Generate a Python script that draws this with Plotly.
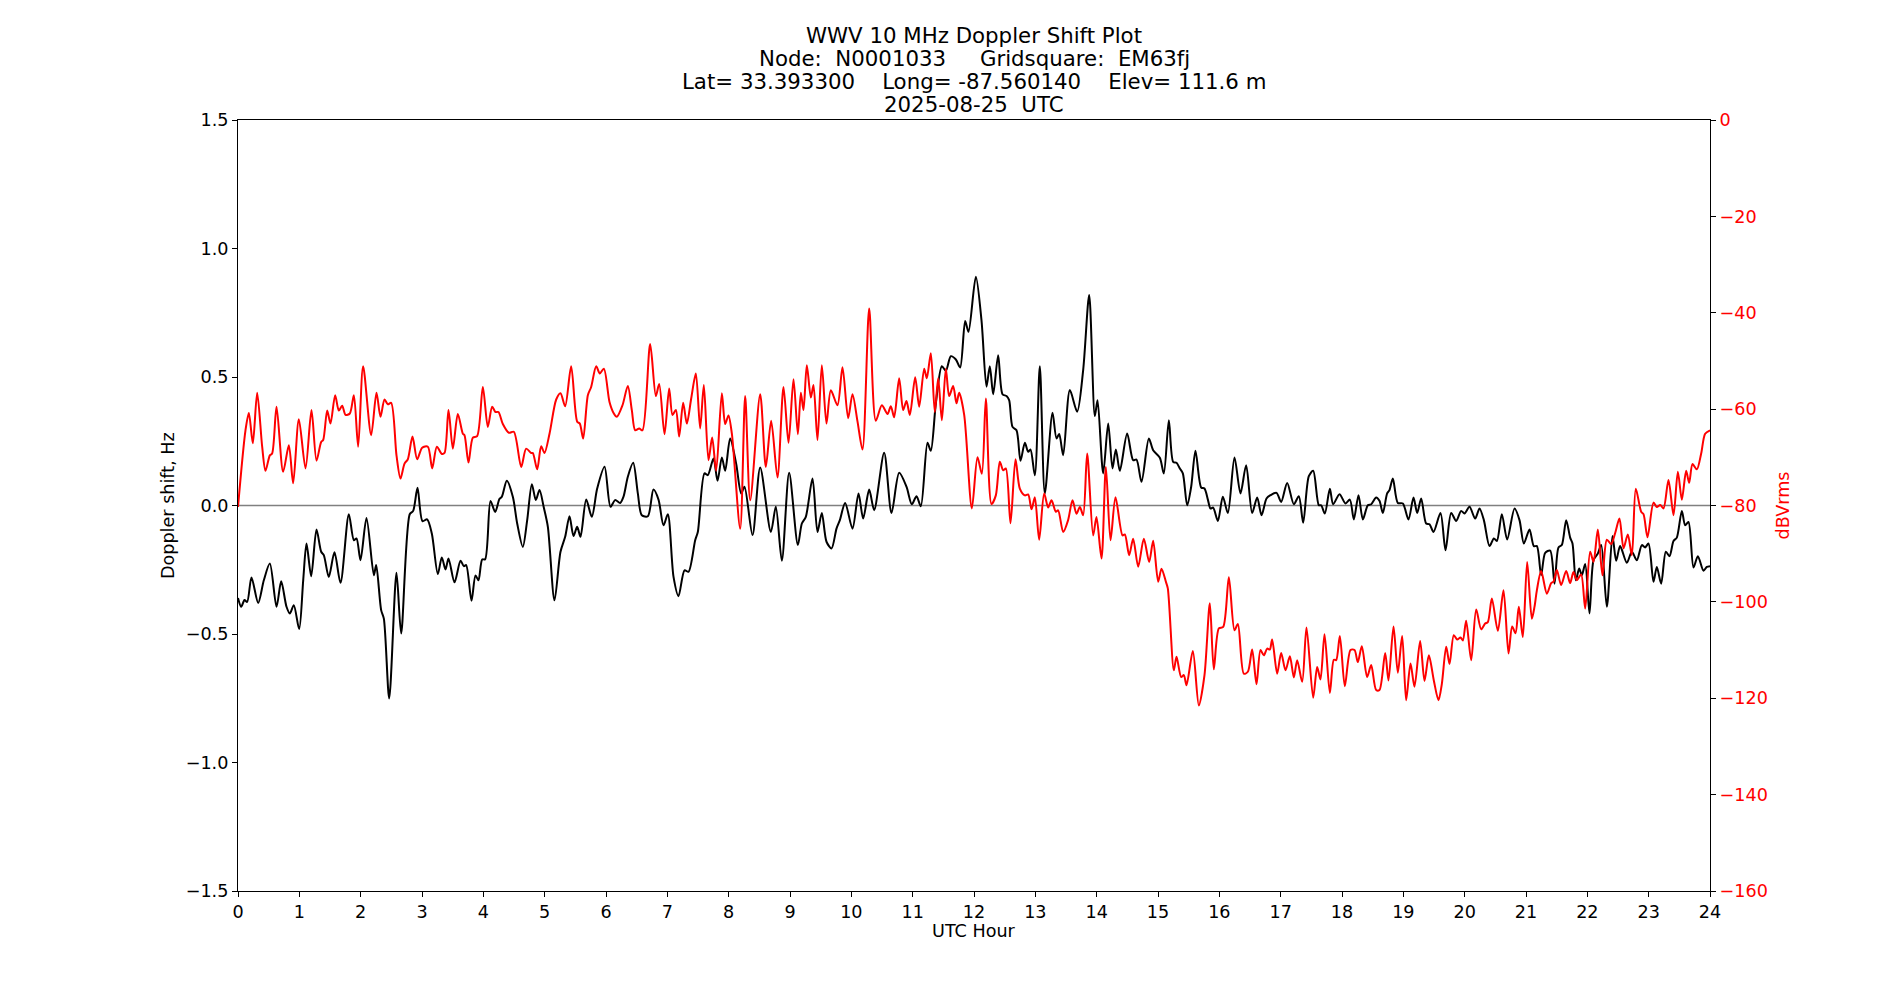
import plotly.graph_objects as go

# Doppler shift (Hz) vs UTC hour (black trace)
doppler_hours = [
    0.0, 0.052, 0.106, 0.149, 0.22, 0.329, 0.421, 0.519, 0.628, 0.704, 0.791, 0.845, 0.91, 0.997,
    1.063, 1.117, 1.193, 1.28, 1.356, 1.399, 1.48, 1.573, 1.671, 1.807, 1.889, 1.932, 1.997, 2.095,
    2.215, 2.253, 2.334, 2.378, 2.465, 2.584, 2.66, 2.80, 2.856, 2.927, 3.008, 3.084,
    3.160, 3.258, 3.323, 3.383, 3.432, 3.530, 3.628, 3.682, 3.720, 3.807, 3.872, 3.921, 3.981, 4.030,
    4.117, 4.193, 4.264, 4.302, 4.383, 4.481, 4.552, 4.644, 4.715, 4.791, 4.856, 4.916, 4.986, 5.052,
    5.160, 5.258, 5.334, 5.405, 5.470, 5.530, 5.584, 5.677, 5.769, 5.856, 5.976, 6.073,
    6.149, 6.231, 6.285, 6.356, 6.443, 6.519, 6.584, 6.682, 6.774, 6.856, 6.938, 7.008, 7.101, 7.182,
    7.280, 7.345, 7.454, 7.497, 7.606, 7.660, 7.753, 7.818, 7.889, 7.943, 8.024, 8.122, 8.204, 8.258,
    8.389, 8.514, 8.688, 8.769, 8.867, 8.986, 9.128,
    9.193, 9.258, 9.367, 9.448, 9.519, 9.595, 9.677, 9.758, 9.813, 9.899, 10.019, 10.117, 10.193,
    10.291, 10.372, 10.535, 10.655, 10.780, 10.899, 10.986, 11.063, 11.133, 11.242, 11.296, 11.378,
    11.476, 11.541, 11.622, 11.704, 11.774, 11.856, 11.910, 12.030,
    12.122, 12.204, 12.258, 12.313, 12.394, 12.465, 12.530, 12.573, 12.628, 12.693, 12.758, 12.829,
    12.883, 12.921, 12.992, 13.073, 13.155, 13.280, 13.345, 13.389, 13.454, 13.563, 13.682, 13.780,
    13.878, 13.970, 14.014, 14.106, 14.188, 14.258, 14.313, 14.378, 14.497, 14.595, 14.649, 14.731,
    14.851, 14.921, 15.03, 15.095,
    15.177, 15.247, 15.302, 15.356, 15.405, 15.476, 15.541, 15.611, 15.704, 15.758, 15.813, 15.856,
    15.899, 15.976, 16.057, 16.139, 16.247, 16.345, 16.437, 16.535, 16.617, 16.688, 16.769, 16.834,
    16.932, 17.008, 17.106, 17.215, 17.296, 17.367, 17.459, 17.530, 17.622, 17.660, 17.720, 17.802,
    17.856, 17.959, 18.057, 18.128,
    18.193, 18.269, 18.340, 18.421, 18.476, 18.557, 18.611, 18.666, 18.736, 18.774, 18.829, 18.910,
    18.992, 19.084, 19.166, 19.226, 19.291, 19.372, 19.427, 19.492, 19.606, 19.688, 19.780, 19.861,
    19.943, 19.997, 20.079, 20.171, 20.242, 20.313, 20.405, 20.476, 20.525, 20.606, 20.693, 20.813,
    20.894, 20.965, 21.057, 21.128,
    21.177, 21.247, 21.313, 21.394, 21.465, 21.530, 21.584, 21.655, 21.720, 21.758, 21.813, 21.867,
    21.910, 21.965, 22.035, 22.101, 22.171, 22.226, 22.318, 22.410, 22.470, 22.535, 22.644, 22.726,
    22.807, 22.889, 22.943, 22.997, 23.079, 23.133, 23.204, 23.280, 23.340, 23.405, 23.459, 23.541,
    23.595, 23.649, 23.731, 23.802, 23.894, 23.948, 24.0,
]
doppler_hz = [
    -0.36, -0.394, -0.368, -0.375, -0.280, -0.379, -0.291, -0.226, -0.394, -0.295, -0.394, -0.420, -0.388, -0.481,
    -0.291, -0.148, -0.275, -0.093, -0.180, -0.193, -0.278, -0.182, -0.301, -0.034, -0.135, -0.128, -0.213, -0.049,
    -0.271, -0.232, -0.407, -0.440, -0.751, -0.262, -0.498, -0.034, -0.021, 0.069, -0.061, -0.054,
    -0.109, -0.267, -0.202, -0.249, -0.206, -0.299, -0.215, -0.236, -0.232, -0.371, -0.272, -0.291, -0.210, -0.209,
    0.018, -0.025, 0.026, 0.034, 0.096, 0.034, -0.070, -0.161, -0.057, 0.083, 0.021, 0.060, -0.008, -0.083,
    -0.369, -0.180, -0.122, -0.042, -0.119, -0.083, -0.122, 0.023, -0.044, 0.066, 0.151, -0.005,
    0.021, 0.010, 0.034, 0.112, 0.166, 0.047, -0.038, -0.042, 0.062, 0.023, -0.077, -0.034, -0.278, -0.353,
    -0.252, -0.258, -0.135, -0.103, 0.125, 0.118, 0.183, 0.096, 0.187, 0.135, 0.261, 0.163, 0.047, 0.073,
    -0.115, 0.148, -0.103, -0.005, -0.215, 0.127, -0.154,
    -0.070, -0.044, 0.105, -0.103, -0.029, -0.141, -0.167, -0.090, -0.057, 0.010, -0.090, 0.047, -0.051,
    0.062, -0.018, 0.205, -0.029, 0.127, 0.073, 0.005, 0.036, -0.003, 0.244, 0.213, 0.397,
    0.542, 0.524, 0.581, 0.568, 0.537, 0.718, 0.676, 0.890,
    0.721, 0.462, 0.542, 0.433, 0.585, 0.433, 0.426, 0.410, 0.306, 0.293, 0.174, 0.244,
    0.209, 0.218, 0.118, 0.542, 0.047, 0.361, 0.261, 0.278, 0.196, 0.449, 0.365, 0.527,
    0.819, 0.348, 0.410, 0.125, 0.319, 0.144, 0.218, 0.135, 0.280, 0.176, 0.179, 0.092,
    0.261, 0.215, 0.186, 0.125,
    0.332, 0.170, 0.166, 0.144, 0.125, 0.001, 0.073, 0.213, 0.070, 0.066, 0.023, -0.012,
    -0.008, -0.060, 0.034, -0.029, 0.187, 0.047, 0.157, -0.029, 0.031, -0.038, 0.027, 0.040,
    0.049, 0.014, 0.088, 0.005, 0.036, -0.067, 0.114, 0.135, 0.001, 0.001, -0.031, 0.065,
    0.005, 0.044, 0.008, 0.023,
    -0.054, 0.040, -0.054, 0.001, 0.005, 0.031, 0.018, -0.029, 0.047, 0.060, 0.105, 0.010,
    0.008, -0.054, 0.031, -0.029, 0.027, -0.070, -0.073, -0.103, -0.029, -0.174, -0.029, -0.060,
    -0.021, -0.031, -0.005, -0.051, -0.012, -0.057, -0.158, -0.128, -0.138, -0.034, -0.132, -0.012,
    -0.057, -0.148, -0.093, -0.158,
    -0.158, -0.271, -0.184, -0.176, -0.304, -0.163, -0.154, -0.057, -0.125, -0.148, -0.291, -0.245,
    -0.271, -0.228, -0.420, -0.213, -0.187, -0.154, -0.394, -0.119, -0.215, -0.158, -0.223, -0.180,
    -0.213, -0.154, -0.163, -0.148, -0.297, -0.239, -0.304, -0.180, -0.197, -0.138, -0.125, -0.021,
    -0.077, -0.064, -0.241, -0.197, -0.254, -0.239, -0.236,
]

# Signal level (dBVrms) vs UTC hour (red trace)
level_hours = [
    0.0, 0.122, 0.177, 0.242, 0.3125, 0.394, 0.448, 0.519, 0.557, 0.628, 0.736, 0.829, 0.899, 0.992,
    1.101, 1.198, 1.280, 1.356, 1.389, 1.454, 1.508, 1.584, 1.644, 1.698, 1.753, 1.823, 1.889, 1.959,
    2.040, 2.171, 2.258, 2.323, 2.389, 2.443, 2.497, 2.584, 2.649, 2.715, 2.769, 2.845, 2.921, 3.003,
    3.095, 3.166, 3.242, 3.323, 3.367, 3.432, 3.503, 3.584, 3.666, 3.693, 3.758, 3.829, 3.899, 3.992,
    4.073, 4.144, 4.198, 4.247, 4.318, 4.416, 4.497, 4.617, 4.698, 4.780, 4.807, 4.878, 4.943, 4.997,
    5.079, 5.188, 5.258, 5.334, 5.432, 5.530, 5.573, 5.628, 5.704, 5.758, 5.840, 5.899, 5.965, 6.057,
    6.128, 6.177, 6.269, 6.356, 6.421, 6.476, 6.541, 6.595, 6.720, 6.813, 6.867, 6.954, 7.030, 7.084,
    7.139, 7.193, 7.258, 7.318, 7.389, 7.465, 7.535, 7.595, 7.671, 7.731, 7.796, 7.889, 7.943, 7.997,
    8.052, 8.188, 8.269, 8.351, 8.514, 8.606, 8.693, 8.796, 8.894, 8.976, 9.057, 9.128,
    9.177, 9.220, 9.274, 9.340, 9.383, 9.448, 9.519, 9.595, 9.666, 9.774, 9.856, 9.948, 10.019, 10.101,
    10.182, 10.291, 10.399, 10.497, 10.590, 10.644, 10.698, 10.780, 10.845, 10.899, 10.954, 11.041,
    11.106, 11.188, 11.231, 11.296, 11.361, 11.416, 11.476, 11.541, 11.595, 11.660, 11.715, 11.758,
    11.840, 11.965, 12.057, 12.128,
    12.193, 12.285, 12.356, 12.421, 12.476, 12.519, 12.595, 12.677, 12.747, 12.829, 12.883, 12.938,
    12.992, 13.062, 13.144, 13.209, 13.264, 13.334, 13.372, 13.454, 13.535, 13.606, 13.671, 13.726,
    13.780, 13.845, 13.943, 13.997, 14.079, 14.150, 14.226, 14.307, 14.421, 14.459, 14.530, 14.595,
    14.677, 14.769, 14.856, 14.921, 15.003, 15.057, 15.128,
    15.160, 15.258, 15.302, 15.378, 15.421, 15.465, 15.568, 15.666, 15.758, 15.845, 15.910, 15.992,
    16.063, 16.155, 16.247, 16.302, 16.399, 16.465, 16.535, 16.606, 16.671, 16.725, 16.780, 16.823,
    16.861, 16.943, 17.008, 17.079, 17.150, 17.215, 17.269, 17.351, 17.421, 17.530, 17.595, 17.649,
    17.715, 17.802, 17.867, 17.905, 17.965, 18.046, 18.139,
    18.204, 18.258, 18.323, 18.410, 18.476, 18.557, 18.611, 18.704, 18.758, 18.840, 18.910, 18.981,
    19.046, 19.117, 19.182, 19.274, 19.345, 19.416, 19.497, 19.573, 19.628, 19.699, 19.753, 19.823,
    19.878, 19.932, 19.970, 20.024, 20.106, 20.188, 20.269, 20.334, 20.378, 20.443, 20.541, 20.633,
    20.715, 20.774, 20.829, 20.883, 20.948, 21.019, 21.095, 21.139,
    21.177, 21.247, 21.340, 21.410, 21.448, 21.503, 21.573, 21.655, 21.720, 21.774, 21.829, 21.899,
    21.965, 22.046, 22.101, 22.171, 22.247, 22.318, 22.389, 22.454, 22.524, 22.590, 22.660, 22.726,
    22.790, 22.878, 22.916, 22.981, 23.079, 23.133, 23.188, 23.242, 23.323, 23.405, 23.476, 23.541,
    23.611, 23.660, 23.715, 23.786, 23.856, 23.921, 24.0,
]
level_db = [
    -80.3, -64.4, -60.8, -67.1, -56.6, -67.8, -72.8, -69.6, -69.2, -59.5, -73.0, -67.5, -75.4, -62.1,
    -72.3, -60.2, -70.7, -66.8, -66.4, -60.3, -63.0, -57.1, -60.3, -59.3, -61.2, -60.9, -57.1, -67.8,
    -51.1, -65.4, -56.6, -61.6, -58.0, -59.0, -58.7, -69.6, -74.4, -71.3, -70.4, -65.7, -70.4, -68.0,
    -67.8, -72.3, -67.8, -69.3, -69.1, -60.2, -68.2, -61.0, -65.1, -65.4, -71.1, -65.9, -65.6, -55.4,
    -63.7, -59.5, -60.6, -60.6, -63.1, -64.9, -64.7, -72.0, -68.2, -69.1, -69.1, -72.5, -67.7, -69.1,
    -65.1, -58.0, -56.7, -59.4, -51.1, -62.6, -63.0, -66.1, -57.1, -55.4, -51.1, -52.6, -51.6, -58.5,
    -60.9, -61.6, -59.2, -55.2, -60.2, -64.4, -64.0, -64.4, -46.5, -57.3, -54.8, -65.2, -55.7, -61.2,
    -60.2, -65.7, -58.7, -63.0, -57.8, -52.6, -64.0, -55.0, -70.6, -65.9, -72.8, -56.7, -63.1, -61.3,
    -65.1, -84.8, -57.3, -78.9, -56.9, -72.0, -62.4, -74.2, -55.4, -67.0, -53.8, -65.2,
    -56.6, -60.2, -50.9, -57.6, -55.0, -66.4, -50.9, -63.0, -56.1, -59.2, -51.3, -61.9, -56.9, -62.6,
    -68.4, -39.1, -62.4, -59.2, -61.0, -59.4, -61.7, -53.6, -60.2, -58.3, -61.2, -53.4,
    -59.5, -51.6, -53.6, -48.4, -60.6, -53.6, -62.3, -51.6, -57.3, -55.2, -58.8, -56.6,
    -61.2, -80.6, -70.0, -73.4,
    -57.8, -79.7, -77.9, -70.9, -72.7, -72.3, -83.7, -70.4, -76.5, -77.9, -77.7, -80.8,
    -78.3, -87.1, -77.5, -80.4, -78.9, -81.3, -81.0, -85.5, -83.0, -78.9, -81.7, -80.3,
    -82.0, -69.2, -86.2, -82.4, -91.0, -72.0, -87.2, -78.3, -86.2, -86.0, -90.3, -86.9,
    -92.7, -86.9, -91.7, -87.3, -95.8, -93.1, -95.8,
    -97.2, -114.2, -111.4, -115.6, -115.2, -117.3, -110.2, -121.5, -115.2, -100.3, -114.0, -105.5,
    -105.2, -94.9, -105.9, -104.6, -114.9, -114.5, -109.9, -117.1, -110.0, -111.1, -109.7, -109.9,
    -107.8, -114.9, -110.6, -114.2, -111.3, -115.7, -112.1, -116.6, -105.3, -119.9, -113.5, -116.1,
    -106.7, -118.9, -112.0, -112.1, -107.1, -117.5, -110.0,
    -110.0, -112.5, -109.2, -115.6, -113.1, -118.3, -118.3, -110.6, -116.3, -105.1, -114.7, -107.1,
    -120.4, -112.8, -117.6, -108.1, -116.4, -111.1, -116.3, -120.4, -117.0, -109.3, -112.9, -106.9,
    -107.8, -107.4, -108.0, -103.9, -112.1, -101.6, -105.7, -104.5, -104.2, -99.3, -106.0, -97.6,
    -110.7, -105.1, -106.5, -101.0, -107.3, -91.7, -103.5, -101.0,
    -97.6, -93.6, -98.3, -96.1, -95.8, -93.4, -96.5, -93.6, -96.1, -93.8, -95.5, -94.3,
    -101.4, -89.6, -91.7, -85.0, -94.5, -87.1, -88.0, -85.7, -82.7, -88.9, -86.0, -90.3,
    -76.5, -81.3, -81.8, -86.6, -79.4, -80.3, -79.9, -80.6, -74.7, -82.0, -73.0, -78.8,
    -72.8, -75.3, -71.4, -72.5, -69.2, -65.1, -64.4,
]

title_lines = [
    "WWV 10 MHz Doppler Shift Plot",
    "Node:  N0001033     Gridsquare:  EM63fj",
    "Lat= 33.393300    Long= -87.560140    Elev= 111.6 m",
    "2025-08-25  UTC",
]
hour_ticks = list(range(0, 25))
hz_ticks = [-1.5, -1.0, -0.5, 0.0, 0.5, 1.0, 1.5]
db_ticks = [-160, -140, -120, -100, -80, -60, -40, -20, 0]

FONT = "DejaVu Sans"
TITLE_SIZE = 21.3
LABEL_SIZE = 17.6
W, H = 1900, 1000
L, R, T, B = 237.5, 1710, 120, 891
pw, ph = R - L, B - T

fig = go.Figure()
fig.add_trace(go.Scatter(x=doppler_hours, y=doppler_hz, mode="lines",
                         line=dict(color="black", width=2, shape="spline", smoothing=0.8),
                         yaxis="y", showlegend=False, hoverinfo="skip"))
fig.add_trace(go.Scatter(x=level_hours, y=level_db, mode="lines",
                         line=dict(color="red", width=2, shape="spline", smoothing=0.8),
                         yaxis="y2", showlegend=False, hoverinfo="skip"))

fig.add_shape(type="line", xref="paper", x0=0, x1=1, yref="y", y0=0, y1=0,
              line=dict(color="gray", width=1.5), layer="below")

def py(pix):
    return (B - pix) / ph

annotations = []
for i, line in enumerate(title_lines):
    annotations.append(dict(text=line, xref="paper", yref="paper", x=0.5, y=py(35.5 + 23.1 * i),
                            xanchor="center", yanchor="middle", showarrow=False,
                            font=dict(family=FONT, size=TITLE_SIZE, color="black")))
annotations.append(dict(text="UTC Hour", xref="paper", yref="paper", x=0.5, y=py(931),
                        xanchor="center", yanchor="middle", showarrow=False,
                        font=dict(family=FONT, size=LABEL_SIZE, color="black")))
annotations.append(dict(text="Doppler shift, Hz", xref="paper", yref="paper",
                        x=(167 - L) / pw, y=0.5, textangle=-90,
                        xanchor="center", yanchor="middle", showarrow=False,
                        font=dict(family=FONT, size=LABEL_SIZE, color="black")))
annotations.append(dict(text="dBVrms", xref="paper", yref="paper",
                        x=(1783 - L) / pw, y=0.5, textangle=-90,
                        xanchor="center", yanchor="middle", showarrow=False,
                        font=dict(family=FONT, size=LABEL_SIZE, color="red")))

fig.update_layout(
    width=W, height=H,
    margin=dict(l=L, r=W - R, t=T, b=H - B, pad=0),
    paper_bgcolor="white", plot_bgcolor="white",
    font=dict(family=FONT, size=LABEL_SIZE, color="black"),
    annotations=annotations,
    xaxis=dict(range=[0, 24], tickvals=hour_ticks, ticktext=[str(h) for h in hour_ticks],
               showgrid=False, zeroline=False, showline=True, linecolor="black", linewidth=1.1,
               mirror=True, ticks="outside", ticklen=5, tickwidth=1.1, tickcolor="black",
               tickfont=dict(family=FONT, size=LABEL_SIZE, color="black")),
    yaxis=dict(range=[-1.5, 1.5], tickvals=hz_ticks, tickformat=".1f",
               showgrid=False, zeroline=False, showline=True, linecolor="black", linewidth=1.1,
               mirror=True, ticks="outside", ticklen=5, tickwidth=1.1, tickcolor="black",
               tickfont=dict(family=FONT, size=LABEL_SIZE, color="black")),
    yaxis2=dict(range=[-160, 0], tickvals=db_ticks, overlaying="y", side="right",
                showgrid=False, zeroline=False, showline=False,
                ticks="outside", ticklen=5, tickwidth=1.1, tickcolor="black",
                tickfont=dict(family=FONT, size=LABEL_SIZE, color="red")),
)

fig.write_html("out.html")
